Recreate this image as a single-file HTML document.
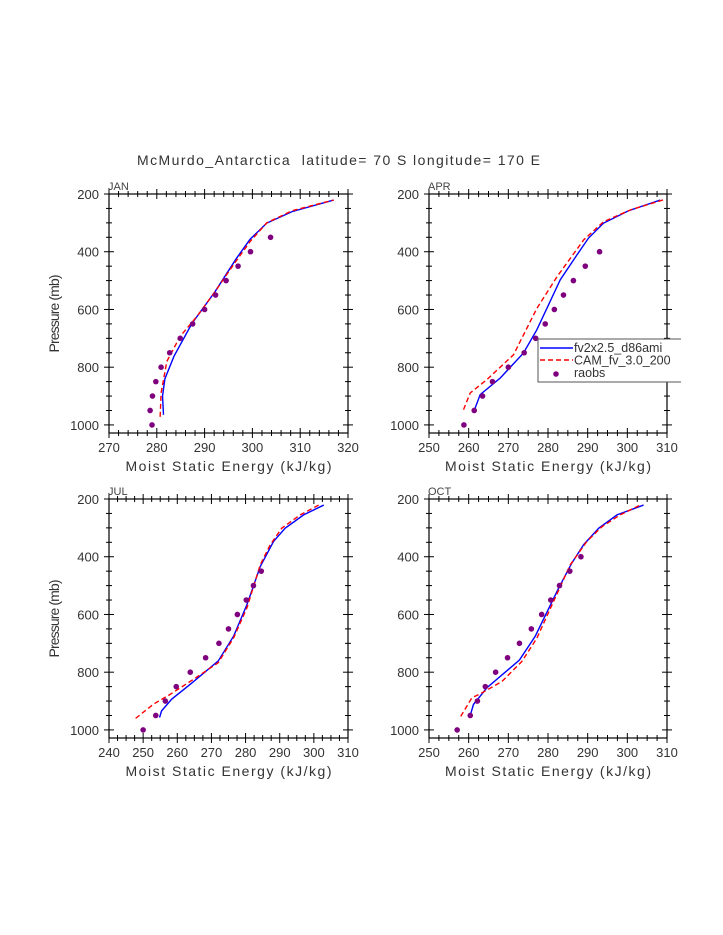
<!DOCTYPE html>
<html><head><meta charset="utf-8"><style>
body{margin:0;background:#fff}
svg{display:block;font-family:"Liberation Sans",sans-serif}
</style></head><body>
<svg id="chart" width="723" height="935">
<text x="137" y="165" textLength="403" lengthAdjust="spacing" font-size="14" fill="#333" xml:space="preserve">McMurdo_Antarctica  latitude= 70 S longitude= 170 E</text>
</svg>
<script>
const janDotsE=[279.0,278.6,279.1,279.8,280.9,282.7,284.9,287.5,290.0,292.3,294.5,297.0,299.6,303.8];
const janDotsP=[1000,950,900,850,800,750,700,650,600,550,500,450,400,350];
const janBlueE=[281.4,281.2,281.7,283.6,287.3,292.2,296.7,299.5,303.0,308.3,317.0];
const janBlueP=[965,900,840,762,650,538,422,357,301,261,221];
const janRedE=[280.7,280.9,282.1,284.9,288.4,292.2,296.0,299.5,303.0,308.3,317.0];
const janRedP=[972,889,780,693,624,538,446,365,300,258,221];
const aprDotsE=[258.8,261.4,263.5,266.0,270.0,274.0,276.9,279.3,281.6,283.9,286.4,289.4,293.0];
const aprDotsP=[1000,950,900,850,800,750,700,650,600,550,500,450,400];
const aprBlueE=[261.4,262.9,268.0,273.8,277.2,283.1,287.3,290.2,294.0,300.3,308.3];
const aprBlueP=[950,895,837,751,670,497,411,353,301,258,221];
const aprRedE=[258.7,260.4,264.6,271.3,277.2,282.3,289.0,294.0,300.8,309.6];
const aprRedP=[947,889,843,757,596,486,359,296,255,218];
const julDotsE=[250.0,253.7,256.5,259.7,263.8,268.3,272.2,275.0,277.6,280.2,282.3,284.6];
const julDotsP=[1000,950,900,850,800,750,700,650,600,550,500,450];
const julBlueE=[254.8,255.4,258.4,264.2,272.0,276.5,280.4,284.3,288.2,291.6,297.0,302.9];
const julBlueP=[957,934,893,838,761,675,566,434,347,301,255,221];
const julRedE=[247.8,253.0,257.9,264.7,272.0,276.5,280.4,284.3,287.2,290.6,296.0,301.4];
const julRedP=[960,911,877,825,767,681,577,428,359,301,255,221];
const octDotsE=[257.1,260.4,262.2,264.2,266.8,269.8,272.8,275.8,278.4,280.7,282.9,285.5,288.3];
const octDotsP=[1000,950,900,850,800,750,700,650,600,550,500,450,400];
const octBlueE=[260.4,261.2,264.6,272.8,276.8,282.7,286.0,289.0,292.8,297.4,304.1];
const octBlueP=[950,912,854,758,675,508,422,358,301,255,221];
const octRedE=[258.0,260.8,263.3,268.4,273.4,277.2,281.0,285.6,289.8,293.6,298.2,303.7];
const octRedP=[953,889,872,832,763,682,567,428,347,296,255,218];
const yTicks=[200,400,600,800,1000];
const janXTicks=[270,280,290,300,310,320];
const aprXTicks=[250,260,270,280,290,300,310];
const julXTicks=[240,250,260,270,280,290,300,310];
const octXTicks=[250,260,270,280,290,300,310];
const legendLabels=["fv2x2.5_d86ami","CAM_fv_3.0_200","raobs"];

const NS="http://www.w3.org/2000/svg";
const svg=document.getElementById('chart');
function mk(tag,attrs,parent){const e=document.createElementNS(NS,tag);for(const k in attrs)e.setAttribute(k,attrs[k]);(parent||svg).appendChild(e);return e;}

function panel(cfg){
  const {name,x0,x1,y0,y1,xmin,xmax,minor,xticks,dE,dP,bE,bP,rE,rP,ylab}=cfg;
  const pmin=200,pmax=1028;
  const sx=v=>x0+(v-xmin)/(xmax-xmin)*(x1-x0);
  const sy=p=>y0+(p-pmin)/(pmax-pmin)*(y1-y0);
  const g=mk('g',{});
  
  
  const fr=mk('rect',{x:x0,y:y0,width:x1-x0,height:y1-y0,fill:'none',stroke:'#000','stroke-width':1.2},g);
  
  
  for(let p=200;p<=1000;p+=50){
    const maj=p%200===0,y=sy(p),l=maj?5:3;
    mk('line',{x1:x0-l,x2:x0+l,y1:y,y2:y,stroke:'#000'},g);
    mk('line',{x1:x1-l,x2:x1+l,y1:y,y2:y,stroke:'#000'},g);
  }
  yTicks.forEach(p=>{const t=mk('text',{x:x0-10,y:sy(p)+5,'text-anchor':'end','font-size':13,fill:'#333'},g);t.textContent=p;
    
    });
  for(let v=xmin;v<=xmax+1e-6;v+=minor){
    const maj=Math.abs(v/10-Math.round(v/10))<1e-6,x=sx(v),l=maj?5:3;
    mk('line',{x1:x,x2:x,y1:y0-l,y2:y0+l,stroke:'#000'},g);
    mk('line',{x1:x,x2:x,y1:y1-l,y2:y1+l,stroke:'#000'},g);
  }
  xticks.forEach(v=>{const t=mk('text',{x:sx(v),y:y1+19,'text-anchor':'middle','font-size':13,fill:'#333'},g);t.textContent=v;
    
    });
  const xt=mk('text',{x:(x0+x1)/2-103,y:y1+38,textLength:206,lengthAdjust:'spacing','font-size':14,fill:'#333'},g);
  xt.textContent='Moist Static Energy (kJ/kg)';
  
  
  if(ylab){const yt=mk('text',{x:-39,y:0,transform:`translate(59,${(y0+y1)/2}) rotate(-90)`,textLength:78,lengthAdjust:'spacing','font-size':14,fill:'#333'},g);
    yt.textContent='Pressure (mb)';
    
    }
  const pl=mk('text',{x:x0-1,y:y0-4,'font-size':11,fill:'#444'},g);
  pl.textContent=name.toUpperCase();
  
  
  const b=mk('polyline',{points:bE.map((e,i)=>sx(e)+','+sy(bP[i])).join(' '),fill:'none',stroke:'#0000ff','stroke-width':1.4},g);
  
  
  const r=mk('polyline',{points:rE.map((e,i)=>sx(e)+','+sy(rP[i])).join(' '),fill:'none',stroke:'#ff0000','stroke-width':1.4,'stroke-dasharray':'5,3'},g);
  
  
  dE.forEach((e,i)=>{const c=mk('circle',{cx:sx(e),cy:sy(dP[i]),r:2.8,fill:'#7f007f'},g);
    
    });
}
panel({name:'jan',x0:109,x1:348,y0:194,y1:433,xmin:270,xmax:320,minor:2,xticks:janXTicks,dE:janDotsE,dP:janDotsP,bE:janBlueE,bP:janBlueP,rE:janRedE,rP:janRedP,ylab:true});
panel({name:'apr',x0:429,x1:667,y0:194,y1:433,xmin:250,xmax:310,minor:2.5,xticks:aprXTicks,dE:aprDotsE,dP:aprDotsP,bE:aprBlueE,bP:aprBlueP,rE:aprRedE,rP:aprRedP,ylab:false});
panel({name:'jul',x0:109,x1:348,y0:499,y1:738,xmin:240,xmax:310,minor:2.5,xticks:julXTicks,dE:julDotsE,dP:julDotsP,bE:julBlueE,bP:julBlueP,rE:julRedE,rP:julRedP,ylab:true});
panel({name:'oct',x0:429,x1:667,y0:499,y1:738,xmin:250,xmax:310,minor:2.5,xticks:octXTicks,dE:octDotsE,dP:octDotsP,bE:octBlueE,bP:octBlueP,rE:octRedE,rP:octRedP,ylab:false});
const lg=mk('g',{});


mk('rect',{x:538,y:339,width:150,height:43,fill:'#fff',stroke:'#555','stroke-width':1},lg);
mk('line',{x1:540,x2:573,y1:348,y2:348,stroke:'#0000ff','stroke-width':1.4},lg);
mk('line',{x1:540,x2:573,y1:360,y2:360,stroke:'#ff0000','stroke-width':1.4,'stroke-dasharray':'5,3'},lg);
mk('circle',{cx:556,cy:374,r:2.8,fill:'#7f007f'},lg);
legendLabels.forEach((s,i)=>{const t=mk('text',{x:574,y:352+i*12.5,'font-size':12.5,fill:'#333'},lg);t.textContent=s;
  
  });
mk('rect',{x:681,y:330,width:42,height:60,fill:'#fff'},lg);
</script>
</body></html>
